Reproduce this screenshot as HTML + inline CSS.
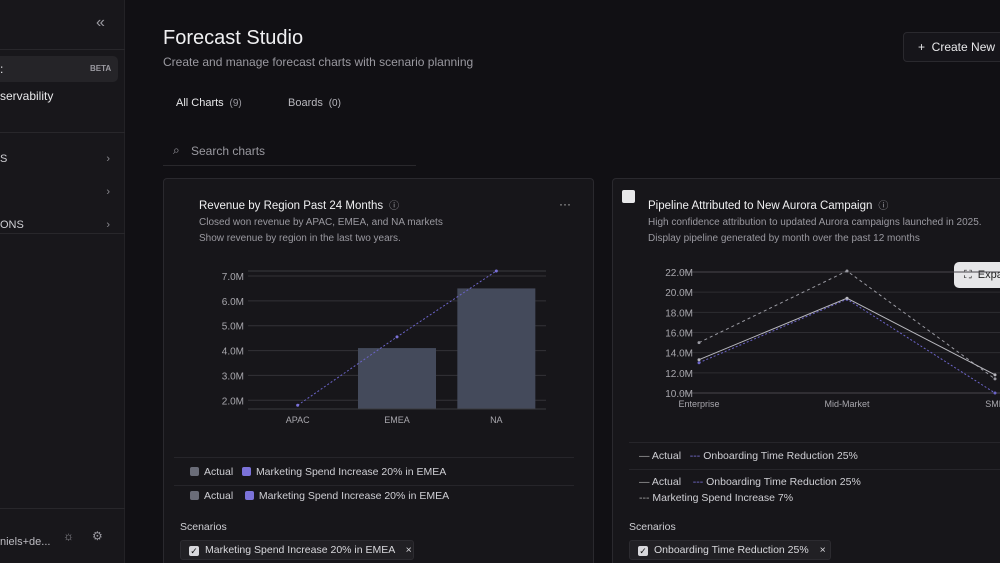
<!DOCTYPE html>
<html style="width:1000px;height:563px;overflow:hidden"><head><meta charset="utf-8">
<style>
*{box-sizing:border-box;margin:0;padding:0}
body{width:1000px;height:563px;overflow:hidden;background:#111014;font-family:"Liberation Sans",sans-serif;color:#e8e8ea;position:relative}
.abs{position:absolute}
.sidebar{left:0;top:0;width:125px;height:563px;background:#18171b;border-right:1px solid #232226}
.muted{color:#9a99a0}
.card{background:#17161a;border:1px solid #2a292e;border-bottom:none;border-radius:4px 4px 0 0}
.lg{font-size:10.5px;color:#cfcfd4;white-space:nowrap}
.sw{display:inline-block;width:9px;height:9px;border-radius:2px;vertical-align:-1px;margin-right:5px}
.chip{background:#212024;border:1px solid #2c2b30;border-radius:3px;font-size:10.5px;color:#d8d8dc;height:20px;line-height:18px;padding-left:8px;white-space:nowrap}
.cb{display:inline-block;width:10px;height:10px;background:#d8d8dc;border-radius:2px;color:#111;font-size:9px;line-height:10px;text-align:center;margin-right:6px;vertical-align:-1px}
svg text{font-family:"Liberation Sans",sans-serif}
</style></head><body>
<div class="abs sidebar">
  <div class="abs" style="left:96px;top:14px;font-size:16px;color:#9a99a0">«</div>
  <div class="abs" style="left:0;top:49px;width:125px;border-top:1px solid #28272b"></div>
  <div class="abs" style="left:0;top:56px;width:118px;height:26px;background:#252428;border-radius:0 5px 5px 0">
    <span class="abs" style="left:0;top:6px;font-size:12px">:</span>
    <span class="abs" style="left:90px;top:8px;font-size:8px;color:#9a99a0;font-weight:bold">BETA</span></div>
  <div class="abs" style="left:0;top:89px;font-size:12px">servability</div>
  <div class="abs" style="left:0;top:132px;width:125px;border-top:1px solid #28272b"></div>
  <div class="abs" style="left:0;top:153px;width:110px;font-size:11px;color:#cfcfd4">S<span style="float:right;color:#8a898f">›</span></div>
  <div class="abs" style="left:0;top:186px;width:110px;font-size:11px;color:#cfcfd4">&nbsp;<span style="float:right;color:#8a898f">›</span></div>
  <div class="abs" style="left:0;top:219px;width:110px;font-size:11px;color:#cfcfd4">ONS<span style="float:right;color:#8a898f">›</span></div>
  <div class="abs" style="left:0;top:233px;width:125px;border-top:1px solid #28272b"></div>
  <div class="abs" style="left:0;top:508px;width:125px;border-top:1px solid #28272b"></div>
  <div class="abs" style="left:0;top:536px;font-size:11px;color:#bdbcc2">niels+de...</div>
  <div class="abs" style="left:63px;top:529px;font-size:12px;color:#9a99a0">☼</div>
  <div class="abs" style="left:92px;top:529px;font-size:12px;color:#9a99a0">⚙</div>
</div>

<div class="abs" style="left:163px;top:27px;font-size:20px;color:#f0f0f2">Forecast Studio</div>
<div class="abs muted" style="left:163px;top:55px;font-size:12px">Create and manage forecast charts with scenario planning</div>
<div class="abs" style="left:903px;top:32px;width:110px;height:30px;border:1px solid #2a292e;border-radius:4px;background:#16151a;font-size:12px;line-height:28px;padding-left:14px">+&nbsp;&nbsp;Create New</div>
<div class="abs" style="left:176px;top:97px;font-size:11px">All Charts <span class="muted" style="font-size:10px">&nbsp;(9)</span></div>
<div class="abs muted" style="left:288px;top:97px;font-size:11px;color:#b8b7bd">Boards <span style="font-size:10px">&nbsp;(0)</span></div>
<div class="abs" style="left:163px;top:138px;width:253px;height:28px;border-bottom:1px solid #29282c">
  <span class="abs" style="left:10px;top:5px;font-size:12px;color:#9a99a0">⌕</span>
  <span class="abs muted" style="left:28px;top:6px;font-size:12px">Search charts</span></div>

<div class="abs card" style="left:163px;top:178px;width:431px;height:385px">
  <div class="abs" style="left:35px;top:18px;font-size:11.5px;color:#f0f0f2">Revenue by Region Past 24 Months <span style="color:#9a99a0;font-size:10px">&nbsp;ⓘ</span></div>
  <div class="abs" style="left:395px;top:18px;font-size:12px;color:#bbb">···</div>
  <div class="abs muted" style="left:35px;top:36px;font-size:10px;line-height:16px">Closed won revenue by APAC, EMEA, and NA markets<br>Show revenue by region in the last two years.</div>
  <div class="abs" style="left:10px;top:278px;width:400px;border-top:1px solid #26252a"></div>
  <div class="abs lg" style="left:26px;top:287px"><span class="sw" style="background:#6a6c78"></span>Actual&nbsp;&nbsp;&nbsp;<span class="sw" style="background:#7b72d9"></span>Marketing Spend Increase 20% in EMEA</div>
  <div class="abs" style="left:10px;top:306px;width:400px;border-top:1px solid #26252a"></div>
  <div class="abs lg" style="left:26px;top:311px"><span class="sw" style="background:#6a6c78"></span>Actual&nbsp;&nbsp;&nbsp;&nbsp;<span class="sw" style="background:#7b72d9"></span>Marketing Spend Increase 20% in EMEA</div>
  <div class="abs lg" style="left:16px;top:342px">Scenarios</div>
  <div class="abs chip" style="left:16px;top:361px;width:234px"><span class="cb">✓</span>Marketing Spend Increase 20% in EMEA <span style="margin-left:8px">×</span></div>
</div>

<div class="abs card" style="left:612px;top:178px;width:420px;height:385px">
  <div class="abs" style="left:9px;top:11px;width:13px;height:13px;background:#e8e8ea;border-radius:2px"></div>
  <div class="abs" style="left:35px;top:18px;font-size:11.5px;color:#f0f0f2">Pipeline Attributed to New Aurora Campaign <span style="color:#9a99a0;font-size:10px">&nbsp;ⓘ</span></div>
  <div class="abs muted" style="left:35px;top:36px;font-size:10px;line-height:16px;white-space:nowrap">High confidence attribution to updated Aurora campaigns launched in 2025.<br>Display pipeline generated by month over the past 12 months</div>
  <div class="abs" style="left:341px;top:83px;width:70px;height:26px;background:#e6e6e8;border-radius:5px;color:#222;font-size:11px;line-height:26px;padding-left:10px">⛶&nbsp; Expand</div>
  <div class="abs" style="left:16px;top:263px;width:400px;border-top:1px solid #26252a"></div>
  <div class="abs lg" style="left:26px;top:271px"><span style="color:#aaa">—</span> Actual&nbsp;&nbsp;&nbsp;<span style="color:#7b72d9">---</span> Onboarding Time Reduction 25%</div>
  <div class="abs" style="left:16px;top:290px;width:400px;border-top:1px solid #26252a"></div>
  <div class="abs lg" style="left:26px;top:295px;line-height:16px"><span style="color:#aaa">—</span> Actual&nbsp;&nbsp;&nbsp;&nbsp;<span style="color:#7b72d9">---</span> Onboarding Time Reduction 25%<br><span style="color:#aaa">---</span> Marketing Spend Increase 7%</div>
  <div class="abs lg" style="left:16px;top:342px">Scenarios</div>
  <div class="abs chip" style="left:16px;top:361px;width:202px"><span class="cb">✓</span>Onboarding Time Reduction 25% <span style="margin-left:8px">×</span></div>
</div>

<svg class="abs" style="left:0;top:0" width="1000" height="563" id="charts"></svg>

<script>
const barCats=["APAC","EMEA","NA"];
const barActual=[0,4.1,6.5];
const barScenario=[1.8,4.55,7.2];
const barTicks=[2,3,4,5,6,7];
const lineCats=["Enterprise","Mid-Market","SMB"];
const lineActual=[13.3,19.4,11.8];
const lineOnboarding=[13.0,19.3,10.0];
const lineMarketing=[15.0,22.1,11.4];
const lineTicks=[10,12,14,16,18,20,22];

const svg=document.getElementById('charts');
const NS='http://www.w3.org/2000/svg';
function mk(tag,attrs,parent){const e=document.createElementNS(NS,tag);for(const k in attrs)e.setAttribute(k,attrs[k]);(parent||svg).appendChild(e);return e;}

const bx0=248,bx1=546,byTop=271,byBot=409,bMin=1.65,bMax=7.2;
const by=v=>byBot-(v-bMin)/(bMax-bMin)*(byBot-byTop);
const band=(bx1-bx0)/barCats.length;
const bxc=i=>bx0+band*(i+0.5);
const g1=mk('g',{});


mk('line',{x1:bx0,x2:bx1,y1:byTop,y2:byTop,stroke:'#3a393e'},g1);
barTicks.forEach(t=>{
  const l=mk('line',{x1:bx0,x2:bx1,y1:by(t),y2:by(t),stroke:'#333237'},g1);
  
  
  const tx=mk('text',{x:244,y:by(t)+4,'text-anchor':'end','font-size':10,fill:'#a8a7ad'},g1);
  tx.textContent=t.toFixed(1)+'M';
  
  
});
barCats.forEach((c,i)=>{
  const v=Math.max(barActual[i],bMin);
  const r=mk('rect',{x:bxc(i)-39,y:by(v),width:78,height:byBot-by(v),fill:'#444a5b'},g1);
  
  
  const tx=mk('text',{x:bxc(i),y:423,'text-anchor':'middle','font-size':9,fill:'#a8a7ad'},g1);
  tx.textContent=c;
  
  
});
mk('line',{x1:bx0,x2:bx1,y1:byBot,y2:byBot,stroke:'#3a393e'},g1);
const sp=mk('polyline',{points:barScenario.map((v,i)=>bxc(i)+','+by(v)).join(' '),fill:'none',stroke:'#6b64c8','stroke-width':1,'stroke-dasharray':'2 2'},g1);


barScenario.forEach((v,i)=>mk('circle',{cx:bxc(i),cy:by(v),r:1.5,fill:'#7b72d9'},g1));

const lx0=699,lx1=995,lyTop=272,lyBot=393,lMin=10,lMax=22;
const ly=v=>lyBot-(v-lMin)/(lMax-lMin)*(lyBot-lyTop);
const lx=i=>lx0+(lx1-lx0)*i/(lineCats.length-1);
const g2=mk('g',{});


lineTicks.forEach(t=>{
  const l=mk('line',{x1:679,x2:1000,y1:ly(t),y2:ly(t),stroke:(t==lMin||t==lMax)?'#48474c':'#2e2d32'},g2);
  
  
  const tx=mk('text',{x:693,y:ly(t)+4,'text-anchor':'end','font-size':10,fill:'#a8a7ad'},g2);
  tx.textContent=t.toFixed(1)+'M';
  
  
});
lineCats.forEach((c,i)=>{
  const tx=mk('text',{x:lx(i),y:407,'text-anchor':'middle','font-size':9,fill:'#a8a7ad'},g2);
  tx.textContent=c;
  
  
});
function series(vals,color,dash,name){
  const p=mk('polyline',{points:vals.map((v,i)=>lx(i)+','+ly(v)).join(' '),fill:'none',stroke:color,'stroke-width':1,'stroke-dasharray':dash},g2);
  
  
  vals.forEach((v,i)=>mk('circle',{cx:lx(i),cy:ly(v),r:1.5,fill:color},g2));
}
series(lineMarketing,'#9a9aa2','3 3','line-marketing-spend');
series(lineOnboarding,'#6b64c8','2 2','line-onboarding');
series(lineActual,'#b8b8be','','line-actual');
</script>
</body></html>
